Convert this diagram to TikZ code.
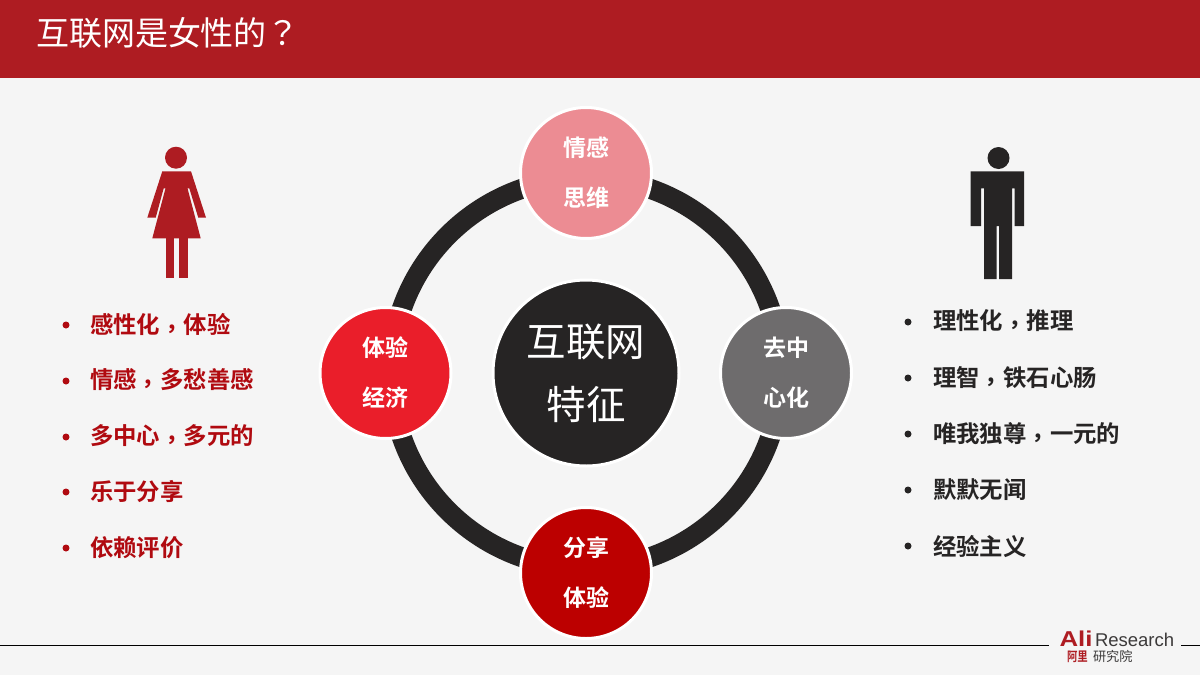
\documentclass[tikz,border=0pt]{standalone}
\usepackage{fontspec}
\usepackage{graphicx}
\setmainfont{Noto Sans CJK SC}
\newfontfamily\cjkb{Noto Sans CJK SC Bold}
\newfontfamily\cjkl{Noto Sans CJK SC}
\newfontfamily\tcb{Noto Sans CJK TC Bold}
\newfontfamily\tcl{Noto Sans CJK TC}
\newfontfamily\latinf{Liberation Sans}
\usetikzlibrary{calc}
\definecolor{bannerred}{HTML}{AE1C22}
\definecolor{pagebg}{HTML}{F5F5F5}
\definecolor{ringdark}{HTML}{262424}
\definecolor{pinkn}{HTML}{EC8C93}
\definecolor{redn}{HTML}{EA1E2A}
\definecolor{grayn}{HTML}{6E6C6D}
\definecolor{deepred}{HTML}{BC0000}
\definecolor{femtext}{HTML}{B00A10}
\definecolor{maletext}{HTML}{262424}
\newcommand{\cma}{\raisebox{-4pt}{\tcb ，}}
\tikzset{
  every node/.style={inner sep=0pt,outer sep=0pt},
  hub/.style={circle,draw=white,line width=3pt,minimum size=131pt,text=white,align=center,font=\cjkb\fontsize{23}{50}\selectfont},
  core/.style={circle,draw=white,line width=3pt,fill=ringdark,minimum size=186pt,text=white,align=center,font=\cjkl\fontsize{39.5}{63}\selectfont},
  femlabel/.style={anchor=west,text=femtext,font=\cjkb\fontsize{23.4}{26}\selectfont},
  malelabel/.style={anchor=west,text=maletext,font=\cjkb\fontsize{23.4}{26}\selectfont},
  fembullet/.style={circle,fill=femtext,minimum size=7pt},
  malebullet/.style={circle,fill=maletext,minimum size=7pt},
  ring/.style={draw=ringdark,line width=20pt}
}
\begin{document}
\begin{tikzpicture}[x=1pt,y=-1pt]
\useasboundingbox (0,0) rectangle (1200,675);
\fill[pagebg] (0,0) rectangle (1200,675);
\fill[bannerred] (0,0) rectangle (1200,78);
\node[name=title,anchor=west,text=white,font=\cjkl\fontsize{33}{38}\selectfont] at (36,33) {互联网是女性的{\tcl ？}};
% ring
\draw[ring] (586,373) circle[radius=195];
\node[core] (center) at (586,373) {互联网\\特征};
\node[hub,fill=pinkn] (top) at (586,173) {情感\\思维};
\node[hub,fill=grayn] (right) at (786,373) {去中\\心化};
\node[hub,fill=deepred] (bottom) at (586,573) {分享\\体验};
\node[hub,fill=redn] (left) at (385.5,373) {体验\\经济};
% woman
\fill[bannerred] (176,157.7) circle[radius=11];
\fill[bannerred] (162.3,171.3) -- (191,171.3) -- (206,217.7) -- (198.3,217.7) -- (189.3,188.3) -- (187.5,188.3) -- (200.7,238.3) -- (152.3,238.3) -- (165.5,188.3) -- (163.7,188.3) -- (155.7,217.7) -- (147.3,217.7) -- cycle;
\fill[bannerred] (165.7,238) rectangle (174.3,277.7);
\fill[bannerred] (179,238) rectangle (187.7,277.7);
% man
\fill[ringdark] (998.5,158) circle[radius=11];
\fill[ringdark] (970.7,171.3) -- (1024,171.3) -- (1024,226) -- (1014.7,226) -- (1014.7,188.3) -- (1012,188.3) -- (1012,279) -- (999,279) -- (999,226) -- (996.7,226) -- (996.7,279) -- (984,279) -- (984,188.3) -- (981,188.3) -- (981,226) -- (970.7,226) -- cycle;
% female list
\foreach \nn/\yy/\tt in {a/325/感性化\cma 体验,b/381/情感\cma 多愁善感,c/437/多中心\cma 多元的,d/492/乐于分享,e/548/依赖评价}{
  \node[fembullet] (fb\nn) at (66,\yy) {};
  \node[femlabel] (ft\nn) at (90,\yy) {\tt};
}
% male list
\foreach \nn/\yy/\tt in {a/322/理性化\cma 推理,b/378/理智\cma 铁石心肠,c/434/唯我独尊\cma 一元的,d/490/默默无闻,e/546/经验主义}{
  \node[malebullet] (mb\nn) at (908,\yy) {};
  \node[malelabel] (mt\nn) at (933,\yy) {\tt};
}
% footer
\draw[black,line width=1pt] (0,645.5) -- (1049,645.5);
\draw[black,line width=1pt] (1181,645.5) -- (1200,645.5);
\node[name=ali,anchor=base west,font=\latinf\bfseries\fontsize{21.5}{24}\selectfont,text=bannerred] at (1059.5,646.7) {\scalebox{1.2}[1]{Ali}};
\node[name=res,anchor=base west,font=\latinf\fontsize{18.5}{24}\selectfont,text=ringdark!90] at (1095,646.7) {Research};
\node[name=cn1,anchor=west,font=\cjkb\fontsize{13}{14}\selectfont,text=bannerred] at (1067,656.7) {\scalebox{0.8}[1]{阿里}};
\node[name=cn2,anchor=west,font=\cjkl\fontsize{13.2}{15}\selectfont,text=ringdark!90] at (1093,656.7) {研究院};
\end{tikzpicture}
\end{document}
